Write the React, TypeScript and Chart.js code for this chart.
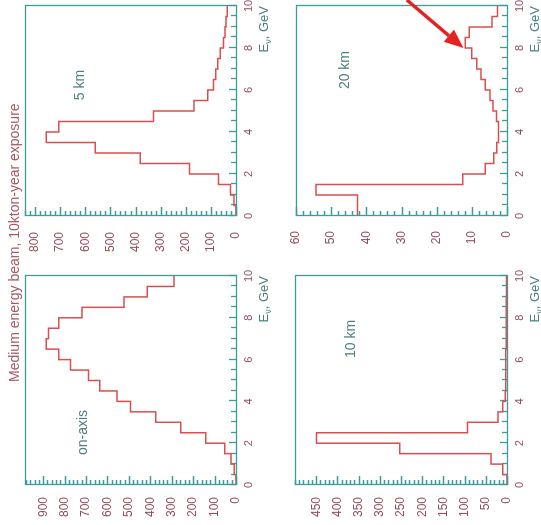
import React, { useEffect, useRef } from 'react';
import { Chart, registerables } from 'chart.js';

Chart.register(...registerables);

// Bin edges in GeV (0.5 GeV bins)
const binEdges = [0, 0.5, 1, 1.5, 2, 2.5, 3, 3.5, 4, 4.5, 5, 5.5, 6, 6.5, 7, 7.5, 8, 8.5, 9, 9.5, 10];

// Event counts per bin
const onAxisCounts = [0, 8, 23, 52, 141, 258, 375, 492, 555, 636, 688, 773, 828, 886, 875, 828, 719, 523, 414, 289];
const km5Counts = [0, 8, 22, 70, 185, 381, 560, 755, 706, 328, 167, 112, 90, 81, 73, 63, 50, 44, 40, 35];
const km10Counts = [0, 10, 38, 253, 449, 93, 21, 10, 4, 3, 3, 3, 3, 2, 2, 2, 2, 2, 1, 1];
const km20Counts = [42.5, 42.5, 54.3, 12.6, 6.2, 3.8, 2.9, 2.4, 2.4, 3.0, 4.0, 4.8, 6.2, 7.4, 8.6, 10.0, 11.9, 10.7, 4.3, 2.7];

// Tick labels
const energyTickLabels = [0, 2, 4, 6, 8, 10];
const onAxisTickLabels = [0, 100, 200, 300, 400, 500, 600, 700, 800, 900];
const km5TickLabels = [0, 100, 200, 300, 400, 500, 600, 700, 800];
const km10TickLabels = [0, 50, 100, 150, 200, 250, 300, 350, 400, 450];
const km20TickLabels = [0, 10, 20, 30, 40, 50, 60];

const TITLE = 'Medium energy beam, 10kton-year exposure';

const TICK_FONT = "'Liberation Sans Narrow', 'Liberation Sans', Arial, sans-serif";
const TEXT_FONT = "'Liberation Sans', Arial, sans-serif";
const FRAME = '#3c9c9c';
const LINE = '#d94f4f';
const TEXT = '#8f4f5a';
const LABEL = '#4d7f80';
const ARROW = '#e42222';

type Panel = {
  name: string;
  counts: number[];
  ticks: number[];
  minor: number;
  max: number;
  label: [number, number];
  left: number;
  top: number;
  w: number;
  h: number;
  area: { l: number; r: number; t: number; b: number };
  pad: number;
  arrow?: { from: [number, number]; to: [number, number] };
};

const panels: Panel[] = [
  { name: 'on-axis', counts: onAxisCounts, ticks: onAxisTickLabels, minor: 20, max: 985, label: [2.51, 712],
    left: 0, top: 0, w: 262, h: 280, area: { l: 40, r: 249, t: 25, b: 236 }, pad: 12 },
  { name: '5 km', counts: km5Counts, ticks: km5TickLabels, minor: 20, max: 840, label: [6.24, 619],
    left: 262, top: 0, w: 263, h: 280, area: { l: 47, r: 257, t: 25, b: 236 }, pad: 16 },
  { name: '10 km', counts: km10Counts, ticks: km10TickLabels, minor: 10, max: 500, label: [6.99, 368],
    left: 0, top: 280, w: 262, h: 261, area: { l: 40, r: 249, t: 15, b: 227 }, pad: 12 },
  { name: '20 km', counts: km20Counts, ticks: km20TickLabels, minor: 2, max: 60, label: [6.95, 46],
    left: 262, top: 280, w: 263, h: 261, area: { l: 47, r: 257, t: 16, b: 227 }, pad: 15,
    arrow: { from: [10.29, 28.5], to: [8.0, 12.4] } },
];

function HistPanel({ p }: { p: Panel }) {
  const ref = useRef<HTMLCanvasElement>(null);
  useEffect(() => {
    const canvas = ref.current;
    if (!canvas) return;
    const deco = {
      id: 'deco',
      beforeDatasetsDraw(chart: any) {
        const { ctx, chartArea: a, scales } = chart;
        const xs = scales.x;
        const ys = scales.y;
        ctx.save();
        ctx.strokeStyle = FRAME;
        ctx.lineWidth = 1.3;
        ctx.beginPath();
        const nMinor = Math.floor(p.max / p.minor + 1e-6);
        for (let k = 0; k <= nMinor; k++) {
          const v = k * p.minor;
          const py = Math.round(ys.getPixelForValue(v)) + 0.5;
          const len = p.ticks.includes(v) ? 9 : 5;
          ctx.moveTo(a.left, py);
          ctx.lineTo(a.left + len, py);
        }
        for (let k = 0; k < binEdges.length; k++) {
          const e = binEdges[k];
          const px = Math.round(xs.getPixelForValue(e)) + 0.5;
          const len = energyTickLabels.includes(e) ? 7 : 5;
          ctx.moveTo(px, a.bottom);
          ctx.lineTo(px, a.bottom - len);
        }
        ctx.stroke();
        ctx.strokeRect(Math.round(a.left) + 0.5, Math.round(a.top) + 0.5,
          Math.round(a.right - a.left), Math.round(a.bottom - a.top));
        ctx.restore();
      },
      afterDraw(chart: any) {
        const { ctx, chartArea: a, scales } = chart;
        const xs = scales.x;
        const ys = scales.y;
        ctx.save();
        // panel label
        ctx.fillStyle = LABEL;
        ctx.font = `14px ${TEXT_FONT}`;
        ctx.textAlign = 'center';
        ctx.textBaseline = 'middle';
        ctx.fillText(p.name, xs.getPixelForValue(p.label[0]), ys.getPixelForValue(p.label[1]));
        // axis title E_nu, GeV
        const base = a.bottom + 32;
        ctx.textBaseline = 'alphabetic';
        ctx.textAlign = 'right';
        ctx.font = `13px ${TEXT_FONT}`;
        const tail = ', GeV';
        const wTail = ctx.measureText(tail).width;
        let xr = a.right;
        ctx.fillText(tail, xr, base);
        xr -= wTail;
        ctx.font = `9px ${TEXT_FONT}`;
        const wNu = ctx.measureText('ν').width;
        ctx.fillText('ν', xr, base + 3);
        xr -= wNu;
        ctx.font = `13px ${TEXT_FONT}`;
        ctx.fillText('E', xr, base);
        // arrow
        if (p.arrow) {
          const x0 = xs.getPixelForValue(p.arrow.from[0]);
          const y0 = ys.getPixelForValue(p.arrow.from[1]);
          const x1 = xs.getPixelForValue(p.arrow.to[0]);
          const y1 = ys.getPixelForValue(p.arrow.to[1]);
          const ang = Math.atan2(y1 - y0, x1 - x0);
          const headLen = 19;
          const headW = 8;
          const bx = x1 - headLen * Math.cos(ang);
          const by = y1 - headLen * Math.sin(ang);
          ctx.strokeStyle = ARROW;
          ctx.fillStyle = ARROW;
          ctx.lineWidth = 3.5;
          ctx.beginPath();
          ctx.moveTo(x0, y0);
          ctx.lineTo(bx, by);
          ctx.stroke();
          ctx.beginPath();
          ctx.moveTo(x1, y1);
          ctx.lineTo(bx + headW * Math.sin(ang), by - headW * Math.cos(ang));
          ctx.lineTo(bx - headW * Math.sin(ang), by + headW * Math.cos(ang));
          ctx.closePath();
          ctx.fill();
        }
        ctx.restore();
      },
    };
    const points = binEdges.map((e, i) => ({ x: e, y: p.counts[Math.min(i, p.counts.length - 1)] }));
    const chart = new Chart(canvas, {
      type: 'line',
      data: {
        datasets: [{
          data: points,
          stepped: true,
          borderColor: LINE,
          borderWidth: 1.5,
          pointRadius: 0,
          fill: false,
          tension: 0,
        }],
      },
      options: {
        animation: false,
        responsive: false,
        devicePixelRatio: 1,
        layout: { padding: { left: 0, top: p.area.t, right: p.w - p.area.r, bottom: 0 } },
        plugins: { legend: { display: false }, tooltip: { enabled: false }, title: { display: false } },
        scales: {
          x: {
            type: 'linear', min: 0, max: 10,
            grid: { display: false, drawTicks: false }, border: { display: false },
            afterBuildTicks: (s: any) => { s.ticks = energyTickLabels.map((v) => ({ value: v })); },
            afterFit: (s: any) => { s.height = p.h - p.area.b; s.paddingLeft = 0; s.paddingRight = 0; },
            ticks: {
              autoSkip: false, maxRotation: 0, minRotation: 0, padding: 6, color: TEXT,
              font: { family: TEXT_FONT, size: 11 },
              callback: (v: any) => String(v),
            },
          },
          y: {
            type: 'linear', min: 0, max: p.max,
            grid: { display: false, drawTicks: false }, border: { display: false },
            afterBuildTicks: (s: any) => { s.ticks = p.ticks.map((v) => ({ value: v })); },
            afterFit: (s: any) => { s.width = p.area.l; s.paddingTop = 0; s.paddingBottom = 0; },
            ticks: {
              padding: p.pad, color: TEXT,
              font: { family: TICK_FONT, size: 12 },
              callback: (v: any) => String(v),
            },
          },
        },
      },
      plugins: [deco],
    } as any);
    return () => chart.destroy();
  }, []);
  return (
    <canvas
      ref={ref}
      width={p.w}
      height={p.h}
      style={{ position: 'absolute', left: p.left, top: p.top, width: p.w, height: p.h }}
    />
  );
}

export default function App() {
  return (
    <div
      style={{
        position: 'fixed',
        left: 0,
        top: 0,
        width: 525,
        height: 541,
        background: '#ffffff',
        transformOrigin: '0 0',
        transform: 'translate(0px, 525px) rotate(-90deg)',
        overflow: 'hidden',
      }}
    >
      <div
        style={{
          position: 'absolute',
          left: 143,
          top: 6,
          whiteSpace: 'nowrap',
          fontFamily: TEXT_FONT,
          fontSize: 14,
          lineHeight: '16px',
          color: '#a85a62',
        }}
      >
        {TITLE}
      </div>
      {panels.map((p) => (
        <HistPanel key={p.name} p={p} />
      ))}
    </div>
  );
}
